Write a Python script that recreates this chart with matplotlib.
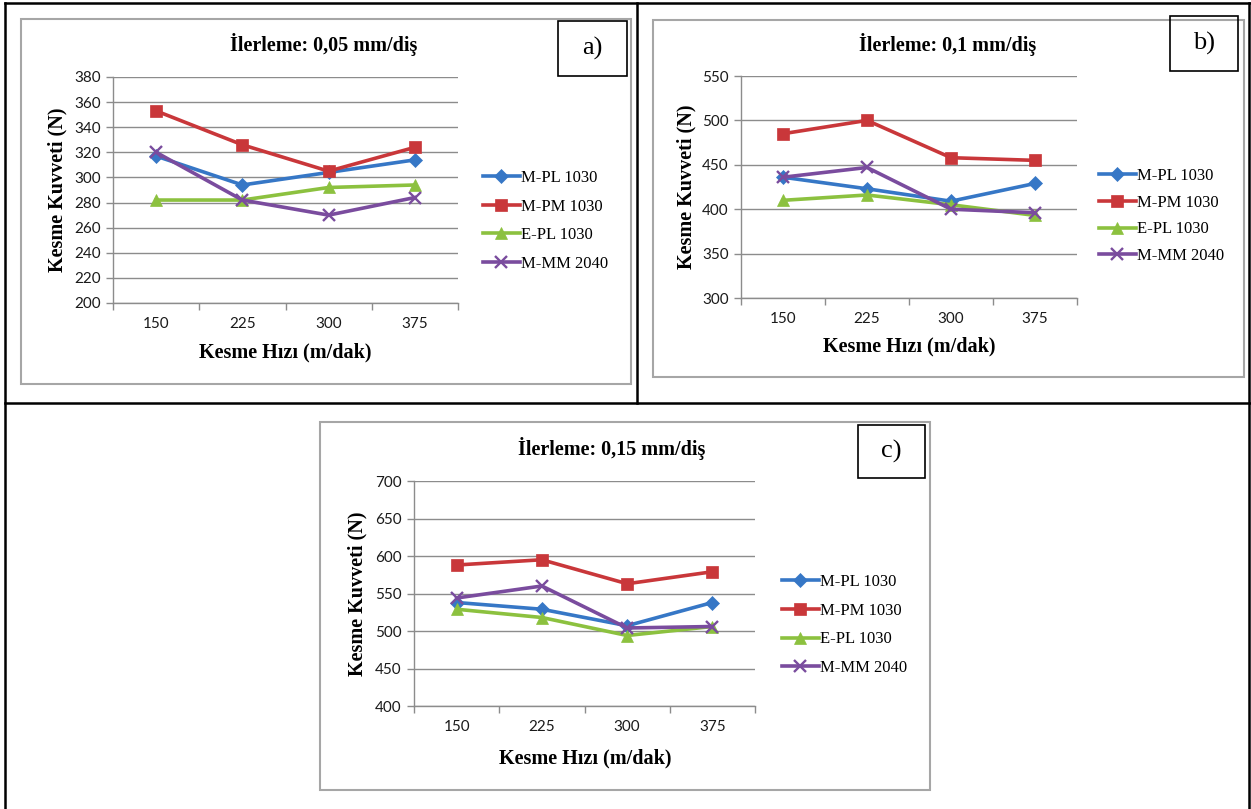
import matplotlib
matplotlib.use('Agg')
import matplotlib.pyplot as plt
from matplotlib.patches import Rectangle
from matplotlib.lines import Line2D

W, H = 1251, 809

# veriler (okunan degerler)
speeds = ['150', '225', '300', '375']
names = ['M-PL 1030', 'M-PM 1030', 'E-PL 1030', 'M-MM 2040']

a_mpl = [317, 294, 304, 314]
a_mpm = [353, 326, 305, 324]
a_epl = [282, 282, 292, 294]
a_mmm = [320, 282, 270, 284]

b_mpl = [436, 423, 409, 429]
b_mpm = [485, 500, 458, 455]
b_epl = [410, 416, 405, 393]
b_mmm = [436, 447, 400, 396]

c_mpl = [538, 529, 507, 538]
c_mpm = [588, 595, 563, 579]
c_epl = [529, 518, 494, 506]
c_mmm = [544, 560, 504, 506]

colors = ['#3677C6', '#C9373A', '#8CC13F', '#7A4C9E']
markers = ['D', 's', '^', 'x']
msizes = [7, 9, 9, 9]

serif = ['Liberation Serif', 'DejaVu Serif']
sans = ['Lato', 'DejaVu Sans']


def frac(x0, y0, x1, y1):
    return [x0 / W, 1 - y1 / H, (x1 - x0) / W, (y1 - y0) / H]


def hline(fig, x0, x1, y, **kw):
    fig.add_artist(Line2D([x0 / W, x1 / W], [1 - y / H, 1 - y / H], transform=fig.transFigure, **kw))


def vline(fig, x, y0, y1, **kw):
    fig.add_artist(Line2D([x / W, x / W], [1 - y0 / H, 1 - y1 / H], transform=fig.transFigure, **kw))


def box(fig, x0, y0, x1, y1, color, lw):
    fig.add_artist(Rectangle((x0 / W, 1 - y1 / H), (x1 - x0) / W, (y1 - y0) / H,
                             transform=fig.transFigure, fill=False, edgecolor=color, linewidth=lw))


def draw_chart(fig, plot_px, series, ylim, ystep, title, title_xy, tag, tag_box,
               ylab_xy, xlab_xy, leg_xy, leg_space):
    ax = fig.add_axes(frac(*plot_px))
    x = list(range(len(speeds)))
    lines = []
    for vals, name, col, mk, ms in zip(series, names, colors, markers, msizes):
        ln, = ax.plot(x, vals, color=col, lw=2.6, marker=mk, markersize=ms,
                      markeredgewidth=1.7 if mk == 'x' else 0.5, label=name, zorder=3)
        lines.append(ln)
    ax.set_xlim(-0.5, len(speeds) - 0.5)
    ax.set_ylim(*ylim)
    ax.set_yticks(range(ylim[0], ylim[1] + 1, ystep))
    ax.set_xticks([i - 0.5 for i in range(len(speeds) + 1)])
    ax.set_xticklabels([])
    ax.set_xticks(x, minor=True)
    ax.set_xticklabels(speeds, minor=True)
    ax.tick_params(axis='x', which='major', length=5, color='#8c8c8c', width=1)
    ax.tick_params(axis='x', which='minor', length=0, pad=10, labelsize=11, labelcolor='#1a1a1a')
    ax.tick_params(axis='y', length=5, color='#8c8c8c', width=1, pad=4, labelsize=11, labelcolor='#1a1a1a')
    for lab in ax.get_xticklabels(minor=True) + ax.get_yticklabels():
        lab.set_family(sans)
    ax.grid(axis='y', color='#8c8c8c', lw=1)
    ax.set_axisbelow(True)
    for s in ['top', 'right']:
        ax.spines[s].set_visible(False)
    for s in ['left', 'bottom']:
        ax.spines[s].set_color('#8c8c8c')
        ax.spines[s].set_linewidth(1)
    ax.patch.set_alpha(0)

    fig.text(title_xy[0] / W, 1 - title_xy[1] / H, title, ha='center', va='center',
             fontsize=14.5, fontweight='bold', family=serif)
    fig.text(ylab_xy[0] / W, 1 - ylab_xy[1] / H, 'Kesme Kuvveti (N)', ha='center', va='center',
             rotation=90, fontsize=14.5, fontweight='bold', family=serif)
    fig.text(xlab_xy[0] / W, 1 - xlab_xy[1] / H, 'Kesme Hızı (m/dak)', ha='center', va='center',
             fontsize=14.5, fontweight='bold', family=serif)

    box(fig, *tag_box, 'black', 1.2)
    fig.text((tag_box[0] + tag_box[2]) / 2 / W, 1 - (tag_box[1] + tag_box[3]) / 2 / H, tag,
             ha='center', va='center', fontsize=19, family=serif)

    fig.legend(handles=lines, loc='center left',
               bbox_to_anchor=(leg_xy[0] / W, 1 - leg_xy[1] / H),
               frameon=False, prop={'family': serif, 'size': 12},
               handlelength=2.2, handletextpad=0.1, labelspacing=leg_space,
               borderpad=0, borderaxespad=0, numpoints=1)
    return ax


fig = plt.figure(figsize=(W / 100, H / 100), dpi=100)

# tablo cizgileri
kw = dict(color='black', lw=1.8)
hline(fig, 5, 1251, 3, **kw)
hline(fig, 5, 1251, 403, **kw)
vline(fig, 5, 3, 809, **kw)
vline(fig, 637, 3, 403, **kw)
vline(fig, 1249, 3, 809, **kw)

# grafik cerceveleri
box(fig, 21, 19, 631, 384, '#a6a6a6', 1.5)
box(fig, 653, 20, 1244, 377, '#a6a6a6', 1.5)
box(fig, 320, 422, 930, 790, '#a6a6a6', 1.5)

draw_chart(fig, (113, 77, 458, 303), [a_mpl, a_mpm, a_epl, a_mmm], (200, 380), 20,
           'İlerleme: 0,05 mm/diş', (324, 44), 'a)', (558, 21, 627, 76),
           (57, 190), (285, 352), (483, 221), 0.75)
draw_chart(fig, (741, 76, 1077, 298), [b_mpl, b_mpm, b_epl, b_mmm], (300, 550), 50,
           'İlerleme: 0,1 mm/diş', (948, 44), 'b)', (1170, 16, 1238, 71),
           (686, 187), (909, 346), (1099, 216), 0.65)
draw_chart(fig, (414, 481, 755, 706), [c_mpl, c_mpm, c_epl, c_mmm], (400, 700), 50,
           'İlerleme: 0,15 mm/diş', (612, 448), 'c)', (858, 425, 925, 478),
           (357, 594), (585, 758), (782, 625), 0.77)

plt.savefig('out.png', dpi=100)
